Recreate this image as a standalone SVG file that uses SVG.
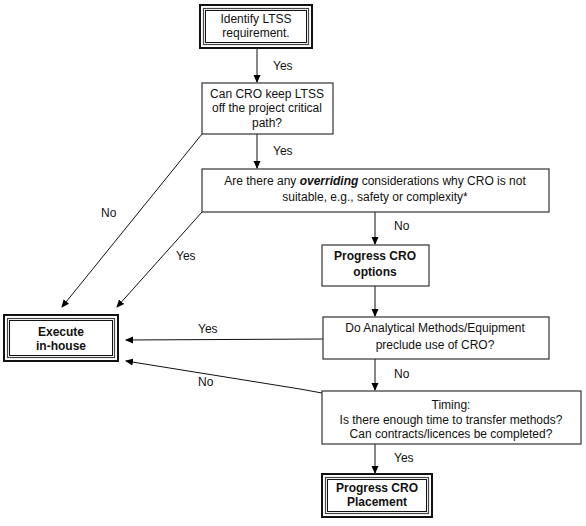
<svg xmlns="http://www.w3.org/2000/svg" width="586" height="526" viewBox="0 0 586 526">
<defs>
<marker id="ah" markerWidth="8" markerHeight="8" refX="7" refY="4" orient="auto" markerUnits="userSpaceOnUse">
<path d="M0,0.5 L8,4 L0,7.5 Z" fill="#000"/>
</marker>
<style>
text{font-family:"Liberation Sans",Arial,sans-serif;font-size:12px;fill:#111;text-anchor:middle}
.b{font-weight:bold}
.lab{text-anchor:start}
.box{fill:#fff;stroke:#333;stroke-width:1.2}
.o{fill:#fff;stroke:#111;stroke-width:2}
.m{fill:none;stroke:#444;stroke-width:1.2}
.i{fill:#fff;stroke:#111;stroke-width:1}
.c{fill:none;stroke:#111;stroke-width:1;marker-end:url(#ah)}
</style>
</defs>
<rect width="586" height="526" fill="#fff"/>
<g id="connectors">
<line class="c" x1="257" y1="49" x2="257" y2="82"/>
<line class="c" x1="257" y1="134" x2="257" y2="168"/>
<line class="c" x1="375" y1="212" x2="375" y2="244"/>
<line class="c" x1="375" y1="286" x2="375" y2="316"/>
<line class="c" x1="375" y1="359" x2="375" y2="390"/>
<line class="c" x1="375" y1="444" x2="375" y2="473"/>
<line class="c" x1="202" y1="134" x2="62" y2="307"/>
<line class="c" x1="202" y1="212" x2="117" y2="307"/>
<line class="c" x1="323" y1="339" x2="126" y2="340"/>
<polyline class="c" points="322,393 300,389 126,361"/>
<text class="lab" x="273" y="70">Yes</text>
<text class="lab" x="273" y="155">Yes</text>
<text class="lab" x="394" y="230">No</text>
<text class="lab" x="101" y="217">No</text>
<text class="lab" x="176" y="260">Yes</text>
<text class="lab" x="198" y="333">Yes</text>
<text class="lab" x="198" y="386">No</text>
<text class="lab" x="394" y="378">No</text>
<text class="lab" x="394" y="462">Yes</text>
</g>
<g id="identify">
<rect class="o" x="200" y="5" width="112" height="43"/>
<rect class="m" x="203.5" y="8.5" width="105" height="36"/>
<rect class="i" x="205.5" y="10.5" width="101" height="32"/>
<text x="256" y="23">Identify LTSS</text>
<text x="256" y="37">requirement.</text>
</g>
<g id="keep-off-path">
<rect class="box" x="202" y="83" width="131" height="51"/>
<text x="267" y="98">Can CRO keep LTSS</text>
<text x="267" y="112">off the project critical</text>
<text x="267" y="127">path?</text>
</g>
<g id="overriding">
<rect class="box" x="202" y="169" width="347" height="43"/>
<text x="375" y="185">Are there any <tspan font-style="italic" font-weight="bold">overriding</tspan> considerations why CRO is not</text>
<text x="375" y="201">suitable, e.g., safety or complexity*</text>
</g>
<g id="progress-options">
<rect class="box" x="322" y="245" width="107" height="41"/>
<text class="b" x="375" y="260">Progress CRO</text>
<text class="b" x="375" y="276">options</text>
</g>
<g id="analytical">
<rect class="box" x="323" y="317" width="226" height="42"/>
<text x="435" y="332">Do Analytical Methods/Equipment</text>
<text x="435" y="349">preclude use of CRO?</text>
</g>
<g id="timing">
<rect class="box" x="322" y="391" width="259" height="53"/>
<text x="451" y="409">Timing:</text>
<text x="451" y="424">Is there enough time to transfer methods?</text>
<text x="451" y="438">Can contracts/licences be completed?</text>
</g>
<g id="execute">
<rect class="o" x="4" y="315" width="114" height="46"/>
<rect class="m" x="7.5" y="318.5" width="107" height="39"/>
<rect class="i" x="9.5" y="320.5" width="103" height="35"/>
<text class="b" x="61" y="336">Execute</text>
<text class="b" x="61" y="350">in-house</text>
</g>
<g id="placement">
<rect class="o" x="322" y="474" width="110" height="43"/>
<rect class="m" x="325.5" y="477.5" width="103" height="36"/>
<rect class="i" x="327.5" y="479.5" width="99" height="32"/>
<text class="b" x="377" y="492">Progress CRO</text>
<text class="b" x="377" y="506">Placement</text>
</g>
</svg>
